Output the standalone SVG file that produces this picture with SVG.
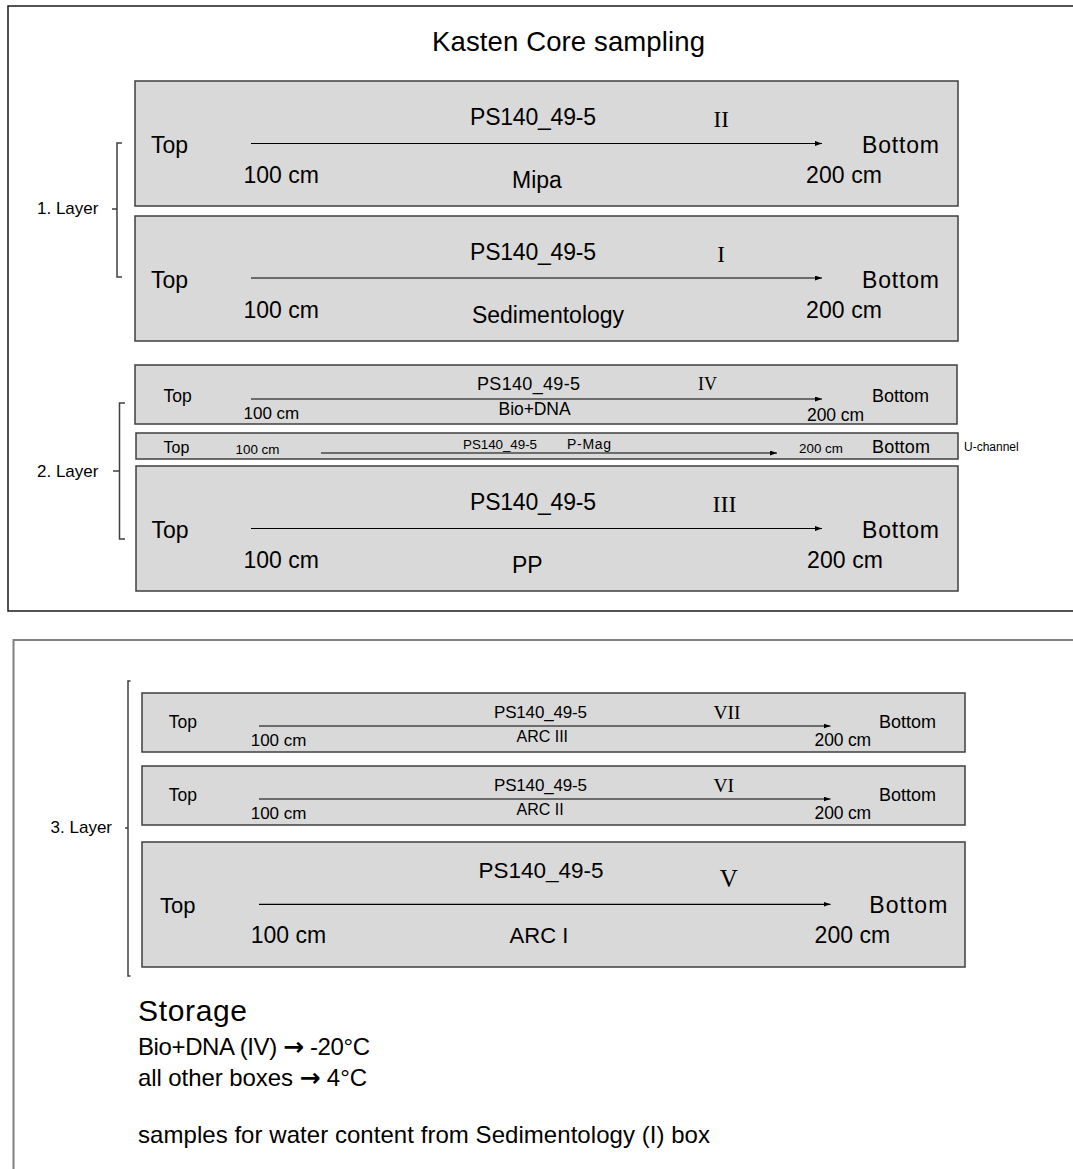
<svg xmlns="http://www.w3.org/2000/svg" width="1073" height="1169" viewBox="0 0 1073 1169">
<defs>
<marker id="ah" markerUnits="userSpaceOnUse" markerWidth="8" markerHeight="6" refX="7" refY="2.5" orient="auto"><path d="M0,0 L7,2.5 L0,5 z" fill="#000"/></marker>
<style>
.box{fill:#d9d9d9;stroke:#3f3f3f;stroke-width:1.5}
.t{font-family:"Liberation Sans",Arial,sans-serif;fill:#000}
.r{font-family:"Liberation Serif","Times New Roman",serif;fill:#000}
.ar{stroke:#000;stroke-width:1.2;fill:none;marker-end:url(#ah)}
.br{stroke:#3f3f3f;stroke-width:1.5;fill:none}
.arw{font-family:"DejaVu Sans",sans-serif;font-weight:bold}
.L{font-size:23px}.M{font-size:17.5px}.S{font-size:13.4px}
</style>
</defs>
<rect width="1073" height="1169" fill="#fff"/>
<rect id="frame1" x="8" y="6" width="1080" height="605" fill="none" stroke="#1a1a1a" stroke-width="1.5"/>
<rect id="frame2" x="13.5" y="640" width="1080" height="560" fill="none" stroke="#808080" stroke-width="2"/>
<text id="title" class="t" x="432" y="51" font-size="27.5" textLength="273">Kasten Core sampling</text>

<g id="box-II">
<rect class="box" x="135" y="81" width="823" height="125"/>
<text class="t L" x="151" y="153">Top</text>
<text class="t L" x="243.5" y="183">100 cm</text>
<text class="t L" x="470" y="125" textLength="126">PS140_49-5</text>
<text class="r" x="713.5" y="127" font-size="23">II</text>
<text class="t L" x="537" y="188" text-anchor="middle">Mipa</text>
<text class="t L" x="862" y="153" textLength="77">Bottom</text>
<text class="t L" x="806" y="183" textLength="76">200 cm</text>
</g>
<g id="box-I">
<rect class="box" x="135" y="216" width="823" height="125"/>
<text class="t L" x="151" y="288">Top</text>
<text class="t L" x="243.5" y="318">100 cm</text>
<text class="t L" x="470" y="260" textLength="126">PS140_49-5</text>
<text class="r" x="721" y="262" font-size="23" text-anchor="middle">I</text>
<text class="t L" x="548" y="323" text-anchor="middle">Sedimentology</text>
<text class="t L" x="862" y="288" textLength="77">Bottom</text>
<text class="t L" x="806" y="318" textLength="76">200 cm</text>
</g>
<g id="box-IV">
<rect class="box" x="135" y="365" width="822" height="59"/>
<text class="t M" x="163.6" y="402">Top</text>
<text class="t" x="243.5" y="419" font-size="17">100 cm</text>
<text class="t" x="477" y="390" font-size="18" textLength="103">PS140_49-5</text>
<text class="r" x="698" y="390" font-size="18">IV</text>
<text class="t M" x="498.6" y="415" textLength="72">Bio+DNA</text>
<text class="t" x="872" y="402" font-size="18" textLength="57">Bottom</text>
<text class="t" x="807" y="421" font-size="17.5" textLength="57">200 cm</text>
</g>
<g id="box-Pmag">
<rect class="box" x="136" y="433" width="822" height="26"/>
<text class="t" x="163.6" y="453" font-size="16">Top</text>
<text class="t S" x="235.5" y="454">100 cm</text>
<text class="t S" x="463" y="449" textLength="74">PS140_49-5</text>
<text class="t" x="567" y="449" font-size="14" textLength="44">P-Mag</text>
<text class="t S" x="799" y="453">200 cm</text>
<text class="t" x="872" y="453" font-size="18" textLength="58">Bottom</text>
<text class="t" x="964" y="451" font-size="12">U-channel</text>
</g>
<g id="box-III">
<rect class="box" x="136" y="466" width="822" height="125"/>
<text class="t L" x="151.5" y="538">Top</text>
<text class="t L" x="243.5" y="568">100 cm</text>
<text class="t L" x="470" y="510" textLength="126">PS140_49-5</text>
<text class="r" x="712.5" y="512" font-size="24">III</text>
<text class="t L" x="512" y="573">PP</text>
<text class="t L" x="862" y="538" textLength="77">Bottom</text>
<text class="t L" x="807" y="568" textLength="76">200 cm</text>
</g>
<g id="box-VII">
<rect class="box" x="142" y="693" width="823" height="59"/>
<text class="t M" x="168.7" y="728">Top</text>
<text class="t" x="250.7" y="746" font-size="17">100 cm</text>
<text class="t" x="494" y="718" font-size="17" textLength="93">PS140_49-5</text>
<text class="r" x="713.5" y="719" font-size="19.5">VII</text>
<text class="t" x="516.5" y="742" font-size="16">ARC III</text>
<text class="t" x="879" y="728" font-size="18" textLength="57">Bottom</text>
<text class="t" x="814.6" y="746" font-size="17.5" textLength="56.5">200 cm</text>
</g>
<g id="box-VI">
<rect class="box" x="142" y="766" width="823" height="59"/>
<text class="t M" x="168.7" y="801">Top</text>
<text class="t" x="250.7" y="819" font-size="17">100 cm</text>
<text class="t" x="494" y="791" font-size="17" textLength="93">PS140_49-5</text>
<text class="r" x="713.5" y="792" font-size="19.5">VI</text>
<text class="t" x="516.5" y="815" font-size="16">ARC II</text>
<text class="t" x="879" y="801" font-size="18" textLength="57">Bottom</text>
<text class="t" x="814.6" y="819" font-size="17.5" textLength="56.5">200 cm</text>
</g>
<g id="box-V">
<rect class="box" x="142" y="842" width="823" height="125"/>
<text class="t" x="160" y="913" font-size="22">Top</text>
<text class="t L" x="250.7" y="943">100 cm</text>
<text class="t" x="478.6" y="878" font-size="22.5" textLength="125">PS140_49-5</text>
<text class="r" x="719.7" y="887" font-size="25">V</text>
<text class="t" x="509.6" y="943" font-size="22">ARC I</text>
<text class="t L" x="869.3" y="913" textLength="78">Bottom</text>
<text class="t L" x="814.6" y="943" textLength="75.5">200 cm</text>
</g>

<g id="connectors">
<line class="ar" x1="251" y1="143.5" x2="822" y2="143.5"/>
<line class="ar" x1="251" y1="278" x2="822" y2="278"/>
<line class="ar" x1="251" y1="399" x2="822" y2="399"/>
<line class="ar" x1="321" y1="453" x2="777" y2="453"/>
<line class="ar" x1="251" y1="528.5" x2="822" y2="528.5"/>
<line class="ar" x1="259" y1="726" x2="830.5" y2="726"/>
<line class="ar" x1="259" y1="799" x2="830.5" y2="799"/>
<line class="ar" x1="259" y1="904.3" x2="830.5" y2="904.3"/>
</g>

<g id="layer1">
<path class="br" d="M122,143 H117 V277 H122 M117,209 H112"/>
<text class="t" x="37" y="214" font-size="17">1. Layer</text>
</g>
<g id="layer2">
<path class="br" d="M125,403 H119.5 V539 H125 M119.5,471 H113"/>
<text class="t" x="37" y="477" font-size="17">2. Layer</text>
</g>
<g id="layer3">
<path class="br" d="M130.5,681 H128 V976 H130.5 M128,828 H125"/>
<text class="t" x="50.6" y="833" font-size="17">3. Layer</text>
</g>

<g id="storage">
<text class="t" x="138" y="1021" font-size="30" textLength="109">Storage</text>
<text class="t" x="138" y="1055" font-size="24" textLength="232">Bio+DNA (IV) <tspan class="arw" font-size="25">→</tspan> -20°C</text>
<text class="t" x="138" y="1086" font-size="24" textLength="229">all other boxes <tspan class="arw" font-size="25">→</tspan> 4°C</text>
<text class="t" x="138" y="1143" font-size="24" textLength="572">samples for water content from Sedimentology (I) box</text>
</g>
</svg>
